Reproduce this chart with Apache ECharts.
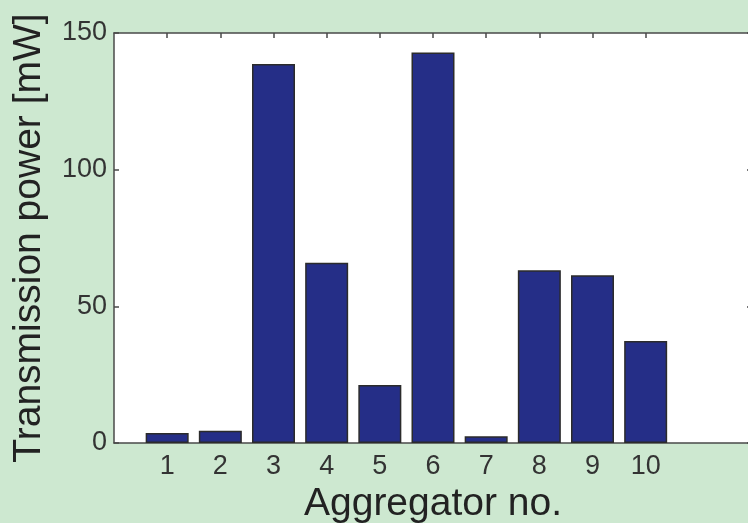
<!DOCTYPE html>
<html>
<head>
<meta charset="utf-8">
<script src="https://cdn.jsdelivr.net/npm/echarts@6/dist/echarts.min.js"></script>
<style>
  html, body { margin: 0; padding: 0; background: #cde8d0; }
  #chart { width: 748px; height: 523px; }
</style>
</head>
<body>
<div id="chart"></div>
<script>
// Aggregator numbers and their transmission power (mW)
const aggregators = [1, 2, 3, 4, 5, 6, 7, 8, 9, 10];
const powerMW = [3.7, 4.5, 138.7, 65.9, 21.2, 142.9, 2.5, 63.2, 61.4, 37.3];
const yTicks = [0, 50, 100, 150];

const FONT = '"Liberation Sans", Arial, Helvetica, sans-serif';
const INK = '#333333';
const AXIS = '#4a4a4a';

const chart = echarts.init(document.getElementById('chart'));

const barData = aggregators.map((a, i) => [a, powerMW[i]]);

chart.setOption({
  backgroundColor: '#cde8d0',
  animation: false,
  grid: {
    left: 114, right: -4, top: 33, bottom: 80,
    outerBoundsMode: 'none', containLabel: false,
    show: true, backgroundColor: '#ffffff', borderWidth: 0
  },
  xAxis: [
    {
      type: 'value', position: 'bottom', min: 0, max: 12, interval: 1,
      splitLine: { show: false },
      axisLine: { show: true, lineStyle: { color: AXIS, width: 1.5 } },
      axisTick: { show: true, inside: true, length: 5, customValues: aggregators, lineStyle: { color: AXIS, width: 1.5 } },
      axisLabel: { customValues: aggregators, color: INK, fontSize: 27, fontFamily: FONT, margin: 10 },
      name: 'Aggregator no.', nameLocation: 'middle', nameGap: 42,
      nameTextStyle: { color: '#222', fontSize: 39, fontFamily: FONT }
    },
    {
      type: 'value', position: 'top', min: 0, max: 12, interval: 1,
      splitLine: { show: false },
      axisLine: { show: true, onZero: false, lineStyle: { color: AXIS, width: 1.5 } },
      axisTick: { show: true, inside: true, length: 5, customValues: aggregators, lineStyle: { color: AXIS, width: 1.5 } },
      axisLabel: { show: false }
    }
  ],
  yAxis: [
    {
      type: 'value', position: 'left', min: 0, max: 150, interval: 50,
      splitLine: { show: false },
      axisLine: { show: true, onZero: false, lineStyle: { color: AXIS, width: 1.5 } },
      axisTick: { show: true, inside: true, length: 5, customValues: yTicks, lineStyle: { color: AXIS, width: 1.5 } },
      axisLabel: { customValues: yTicks, color: INK, fontSize: 27, fontFamily: FONT, margin: 7 },
      name: 'Transmission power [mW]', nameLocation: 'middle', nameGap: 65,
      nameTextStyle: { color: '#222', fontSize: 39, fontFamily: FONT }
    },
    {
      type: 'value', position: 'right', min: 0, max: 150, interval: 50,
      splitLine: { show: false },
      axisLine: { show: true, onZero: false, lineStyle: { color: AXIS, width: 1.5 } },
      axisTick: { show: true, inside: true, length: 5, customValues: yTicks, lineStyle: { color: AXIS, width: 1.5 } },
      axisLabel: { show: false }
    }
  ],
  series: [{
    type: 'bar',
    data: barData,
    xAxisIndex: 0, yAxisIndex: 0,
    barWidth: 43,
    itemStyle: { color: '#252e87', borderColor: '#2b2b2b', borderWidth: 1.5 }
  }]
});
</script>
</body>
</html>
